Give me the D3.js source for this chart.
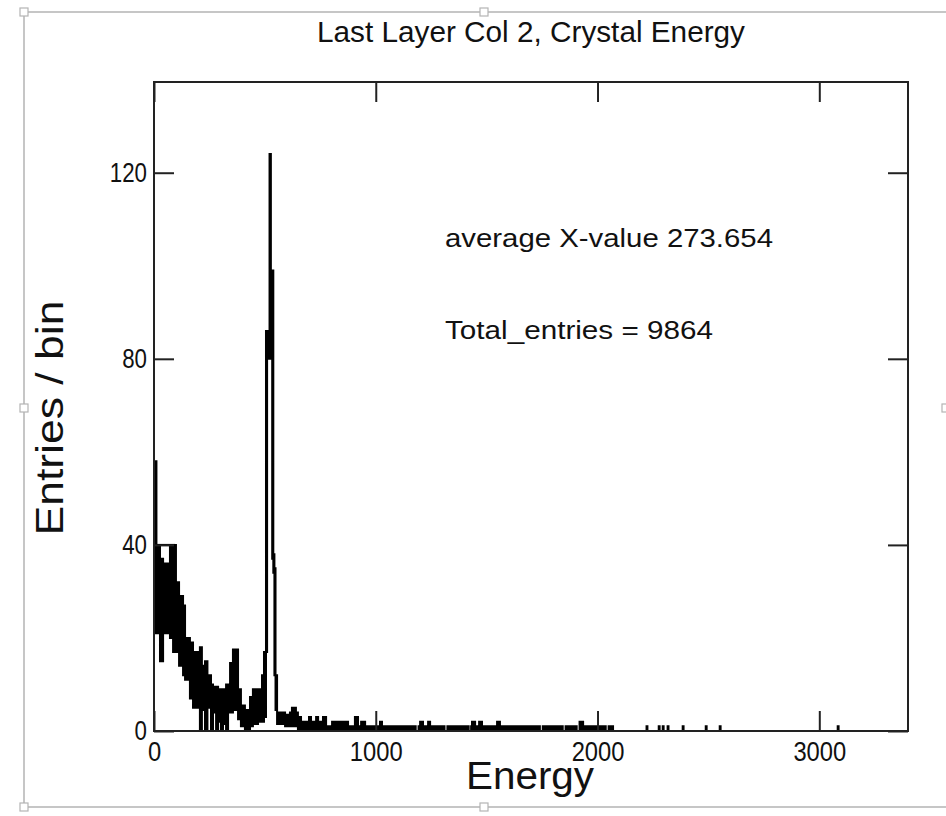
<!DOCTYPE html>
<html lang="en">
<head>
<meta charset="UTF-8">
<title>Last Layer Col 2, Crystal Energy</title>
<script src="https://d3js.org/d3.v7.min.js"></script>
<style>
  body { margin: 0; background: #fff; }
  svg { display: block; }
  text { font-family: "Liberation Sans", Arial, sans-serif; fill: #111; }
</style>
</head>
<body>
<div id="chart"></div>
<script>
  // histogram read off the picture as an envelope: block i runs from
  // binStart[i] to binStart[i+1], bins inside it range from binLow to binHigh
  var binStart = [0, 11, 27, 41, 72, 86, 99, 113, 131, 140, 162, 176, 207, 216, 230, 241, 257, 266, 280, 289,
    302, 311, 325, 334, 343, 356, 379, 392, 410, 433, 446, 469, 487, 496, 505, 510, 521, 527, 533, 538,
    543, 548, 555, 591, 613, 622, 640, 649, 663, 699, 708, 731, 740, 762, 776, 803, 875, 906, 920, 934,
    952, 1019, 1028, 1180, 1193, 1200, 1213, 1236, 1245, 1310, 1323, 1419, 1430, 1434, 1448, 1466, 1479, 1547, 1560, 1740,
    1753, 1843, 1856, 1906, 1919, 1935, 2037, 2050, 2070, 2221, 2225, 2276, 2280, 2294, 2298, 2316, 2320, 2384, 2388, 2488,
    2492, 2551, 2555, 3083, 3087];
  var binLow = [21, 21, 15, 21, 20, 17, 17, 14, 12, 11, 7, 5, 0, 4.5, 0, 5, 0, 4, 0, 2,
    0, 1.5, 0, 4, 4, 4.5, 2.5, 1, 0, 1, 1.5, 2, 2, 3, 17, 80, 80, 88, 37, 34,
    12, 4.5, 1.5, 1, 1, 1, 1, 0, 0, 0, 0, 0, 0, 0, 0, 0, 0, 0, 0, 0,
    0, 0, 0, 0, 0, 0, 0, 0, 0, 0, 0, 0, 0, 0, 0, 0, 0, 0, 0, 0,
    0, 0, 0, 0, 0, 0, 0, 0, 0, 0, 0, 0, 0, 0, 0, 0, 0, 0, 0, 0,
    0, 0, 0, 0, 0];
  var binHigh = [58, 40, 37, 36, 40, 40, 32, 29, 27, 20, 19, 17, 18, 14, 15, 12, 10, 9.5, 9.5, 9,
    9, 9, 10, 10, 14.6, 17.5, 9, 5.5, 4.5, 7.3, 9, 9, 12, 17, 86, 86, 124, 99, 99, 38,
    35, 12, 4, 3.5, 4, 5, 4, 3, 2, 3, 2, 3, 2, 3, 1, 2, 1, 3, 1, 2,
    1, 2, 1, 0, 1, 2, 1, 2, 1, 0, 1, 0, 1, 2, 1, 2, 1, 2, 1, 0,
    1, 0, 1, 0, 2, 1, 0, 1, 0, 1, 0, 1, 0, 1, 0, 1, 0, 1, 0, 1,
    0, 1, 0, 1, 0];

  // flat cap drawn over the first bins
  var capStart = [14], capEnd = [95], capValue = [40];

  var xTicks = [0, 1000, 2000, 3000];
  var yTicks = [0, 40, 80, 120];
  var xMax = 3400, yMax = 139.5;

  var W = 946, H = 816;
  var plot = { left: 154, top: 82, right: 908, bottom: 731 };

  var svg = d3.select("#chart").append("svg")
    .attr("width", W)
    .attr("height", H);

  // outer selection frame with its handles
  svg.append("rect")
    .attr("x", 24).attr("y", 12)
    .attr("width", 926).attr("height", 795)
    .attr("fill", "none")
    .attr("stroke", "#c6c6c6")
    .attr("stroke-width", 2);

  var handles = [[24, 12], [484, 12], [24, 408], [24, 807], [484, 807], [946, 408]];
  svg.selectAll(".handle").data(handles).enter().append("rect")
    .attr("class", "handle")
    .attr("x", function (d) { return d[0] - 4; })
    .attr("y", function (d) { return d[1] - 4; })
    .attr("width", 8).attr("height", 8)
    .attr("fill", "#fff")
    .attr("stroke", "#b4b4b4")
    .attr("stroke-width", 1.2);

  var x = d3.scaleLinear().domain([0, xMax]).range([plot.left, plot.right]);
  var y = d3.scaleLinear().domain([0, yMax]).range([plot.bottom, plot.top]);

  var pts = binStart.map(function (s, i) {
    return { e: s, lo: binLow[i], hi: binHigh[i] };
  });
  var last = pts[pts.length - 1];
  pts.push({ e: xMax, lo: last.lo, hi: last.hi });

  var area = d3.area()
    .curve(d3.curveStepAfter)
    .x(function (d) { return x(d.e); })
    .y0(function (d) { return y(d.lo); })
    .y1(function (d) { return y(d.hi); });

  svg.append("path")
    .datum(pts)
    .attr("d", area)
    .attr("fill", "#000")
    .attr("stroke", "#000")
    .attr("stroke-width", 2)
    .attr("stroke-linejoin", "miter");

  svg.selectAll(".cap").data(capStart).enter().append("line")
    .attr("class", "cap")
    .attr("x1", function (d) { return x(d); })
    .attr("x2", function (d, i) { return x(capEnd[i]); })
    .attr("y1", function (d, i) { return y(capValue[i]); })
    .attr("y2", function (d, i) { return y(capValue[i]); })
    .attr("stroke", "#000")
    .attr("stroke-width", 2);

  function styleTicks(g, charW) {
    g.select(".domain").remove();
    g.selectAll(".tick line").attr("stroke", "#222").attr("stroke-width", 2);
    g.selectAll(".tick text")
      .attr("font-size", 28)
      .attr("font-family", '"Liberation Sans", Arial, sans-serif')
      .attr("fill", "#111")
      .attr("textLength", function (d) { return String(d).length * charW; })
      .attr("lengthAdjust", "spacingAndGlyphs");
  }

  svg.append("g")
    .attr("transform", "translate(0," + plot.bottom + ")")
    .call(d3.axisBottom(x).tickValues(xTicks).tickSize(-20).tickPadding(10).tickFormat(d3.format("d")))
    .call(styleTicks, 13.2);

  svg.append("g")
    .attr("transform", "translate(" + plot.right + ",0)")
    .call(d3.axisRight(y).tickValues(yTicks).tickSize(-20).tickFormat(""))
    .call(styleTicks, 0);

  svg.append("g")
    .attr("transform", "translate(" + plot.left + ",0)")
    .call(d3.axisLeft(y).tickValues(yTicks).tickSize(-20).tickPadding(7).tickFormat(d3.format("d")))
    .call(styleTicks, 12.4);

  svg.append("g")
    .attr("transform", "translate(0," + plot.top + ")")
    .call(d3.axisTop(x).tickValues(xTicks).tickSize(-20).tickFormat(""))
    .call(styleTicks, 0);

  svg.append("rect")
    .attr("x", plot.left).attr("y", plot.top)
    .attr("width", plot.right - plot.left)
    .attr("height", plot.bottom - plot.top)
    .attr("fill", "none")
    .attr("stroke", "#222")
    .attr("stroke-width", 2);

  function label(px, py, str, size, anchor, len, rot) {
    var t = svg.append("text")
      .attr("x", px).attr("y", py)
      .attr("font-size", size)
      .attr("text-anchor", anchor)
      .attr("textLength", len)
      .attr("lengthAdjust", "spacingAndGlyphs")
      .text(str);
    if (rot) t.attr("transform", "rotate(" + rot + "," + px + "," + py + ")");
    return t;
  }

  label(531, 42, "Last Layer Col 2, Crystal Energy", 29, "middle", 428);
  label(445, 247, "average X-value 273.654", 26, "start", 328);
  label(445, 339, "Total_entries = 9864", 26, "start", 268);
  label(530, 789, "Energy", 38, "middle", 128);
  label(63, 418, "Entries / bin", 38, "middle", 235, -90);
</script>
</body>
</html>
